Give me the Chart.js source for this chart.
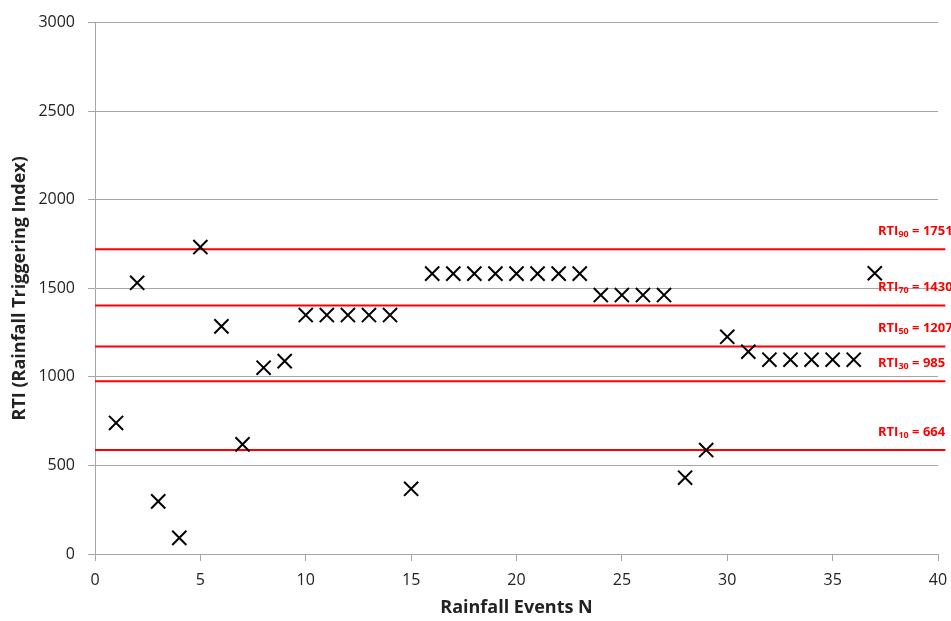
<!DOCTYPE html>
<html>
<head>
<meta charset="utf-8">
<script src="https://cdn.jsdelivr.net/npm/chart.js@4.4.1/dist/chart.umd.min.js"></script>
<style>
    body { margin: 0; background: #fff; }
    #wrap { width: 951px; height: 621px; position: relative; }
</style>
</head>
<body>
<div id="wrap"><canvas id="grafico"></canvas></div>
<script>
// rainfall events and their RTI values
const eventos = [1, 2, 3, 4, 5, 6, 7, 8, 9, 10, 11, 12, 13, 14, 15, 16, 17, 18, 19,
    20, 21, 22, 23, 24, 25, 26, 27, 28, 29, 30, 31, 32, 33, 34, 35, 36, 37];
const valoresRti = [740, 1531, 297, 91, 1733, 1285, 619, 1052, 1089, 1349, 1349, 1349, 1349,
    1349, 368, 1583, 1583, 1583, 1583, 1583, 1583, 1583, 1583, 1462, 1462, 1462, 1462,
    431, 587, 1226, 1142, 1097, 1097, 1097, 1097, 1097, 1585];

// percentile lines (where they are drawn) and the values written on them
const percentis = [90, 70, 50, 30, 10];
const nivelLinhas = [1720, 1403, 1171, 975, 587];
const rotulosRti = [1751, 1430, 1207, 985, 664];

const xMin = 0, xMax = 40, xStep = 5;
const yMin = 0, yMax = 3000, yStep = 500;

const fonte = '"Open Sans", "Liberation Sans", sans-serif';
const cinza = '#a6a6a6';

const linhasDatasets = nivelLinhas.map(nivel => ({
    type: 'line',
    data: [{ x: xMin, y: nivel }, { x: xMax + 0.35, y: nivel }],
    borderColor: '#ff0000',
    borderWidth: 2,
    pointRadius: 0,
    clip: false
}));

const rotulosPlugin = {
    id: 'rotulosPlugin',
    afterDatasetsDraw(chart) {
        const { ctx, chartArea, scales: { y } } = chart;
        ctx.save();
        ctx.fillStyle = '#ff0000';
        ctx.textBaseline = 'middle';
        percentis.forEach((p, i) => {
            let x = chartArea.right - 60;
            const py = y.getPixelForValue(nivelLinhas[i]) - 18;
            ctx.font = 'bold 13px ' + fonte;
            ctx.fillText('RTI', x, py);
            x += ctx.measureText('RTI').width;
            ctx.font = 'bold 9px ' + fonte;
            ctx.fillText(String(p), x, py + 3);
            x += ctx.measureText(String(p)).width;
            ctx.font = 'bold 13px ' + fonte;
            ctx.fillText(' = ' + rotulosRti[i], x, py);
        });
        ctx.restore();
    }
};

const ctx = document.getElementById('grafico').getContext('2d');
new Chart(ctx, {
    type: 'scatter',
    data: {
        datasets: [{
            data: eventos.map((n, i) => ({ x: n, y: valoresRti[i] })),
            pointStyle: 'crossRot',
            pointRadius: 10,
            pointHoverRadius: 10,
            borderColor: '#000',
            backgroundColor: '#000',
            pointBorderWidth: 2,
            showLine: false
        }, ...linhasDatasets]
    },
    options: {
        responsive: true,
        maintainAspectRatio: false,
        animation: false,
        layout: { padding: { top: 19, right: 13, bottom: 0, left: 0 } },
        plugins: {
            legend: { display: false },
            tooltip: { enabled: false }
        },
        scales: {
            x: {
                type: 'linear',
                min: xMin,
                max: xMax,
                afterFit: scale => { scale.height = 67; scale.paddingRight = 0; },
                ticks: {
                    stepSize: xStep,
                    color: '#222',
                    padding: 10,
                    font: { family: fonte, size: 16 },
                    callback: value => String(value)
                },
                grid: {
                    drawOnChartArea: false,
                    drawTicks: true,
                    tickLength: 7,
                    color: cinza
                },
                border: { color: cinza },
                title: {
                    display: true,
                    text: 'Rainfall Events N',
                    color: '#222',
                    padding: { top: 0, bottom: 2 },
                    font: { family: fonte, size: 18, weight: 'bold' }
                }
            },
            y: {
                min: yMin,
                max: yMax,
                afterFit: scale => { scale.width = 95; },
                ticks: {
                    stepSize: yStep,
                    color: '#222',
                    padding: 13,
                    font: { family: fonte, size: 16 },
                    callback: value => String(value)
                },
                grid: {
                    color: cinza,
                    tickLength: 7
                },
                border: { color: cinza },
                title: {
                    display: true,
                    text: 'RTI (Rainfall Triggering Index)',
                    color: '#222',
                    padding: { top: 9, bottom: 0 },
                    font: { family: fonte, size: 18, weight: 'bold' }
                }
            }
        }
    },
    plugins: [rotulosPlugin]
});
</script>
</body>
</html>
